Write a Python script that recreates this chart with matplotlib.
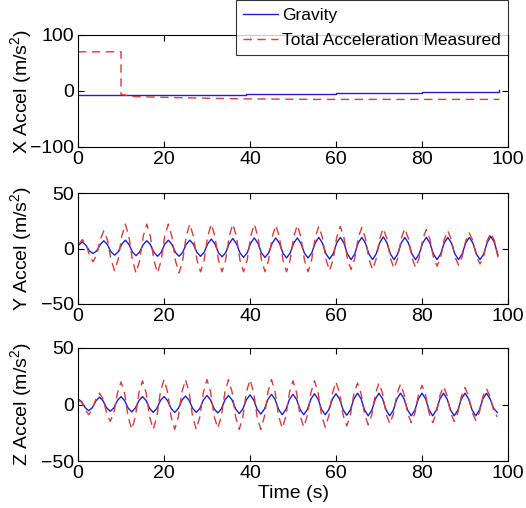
import numpy as np
import matplotlib
matplotlib.use("Agg")
import matplotlib.pyplot as plt

plt.rcParams['font.family'] = ['Liberation Sans', 'DejaVu Sans']
plt.rcParams['mathtext.fontset'] = 'custom'
plt.rcParams['mathtext.rm'] = 'Liberation Sans'

# ---------------- data ----------------
# X axis: piecewise-constant levels
x_grav_t = [0, 15, 39, 60, 80, 98]
x_grav_v = [-8, -7, -5.5, -3.5, -1.5, 1]
x_tot_t = [0, 10, 10, 13, 24, 38, 55, 98]
x_tot_v = [70, 70, -6, -10, -12, -14, -15, -15]

# Y axis samples (every 5/6 s starting at 1/6 s)
y_dt, y_t0 = 5.0 / 6.0, 1.0 / 6.0
y_grav = [
    3, 6, 3, -2.2, -4.5, -2.2,
    3.5, 7, 3.5, -3, -6, -3,
    3.8, 7.5, 3.8, -3.2, -6.5, -3.2,
    3.5, 7, 3.5, -3.5, -7, -3.5,
    3.8, 7.5, 3.8, -3.5, -7, -3.5,
    3.8, 7.5, 3.8, -3.5, -7, -3.5,
    4.2, 8.5, 4.2, -3.8, -7.5, -3.8,
    4.5, 9, 4.5, -4, -8, -4,
    4.8, 9.5, 4.8, -4, -8, -4,
    4.8, 9.5, 4.8, -4.2, -8.5, -4.2,
    4.8, 9.5, 4.8, -4.2, -8.5, -4.2,
    5, 10, 5, -4.8, -9.5, -4.8,
    5, 10, 5, -5, -10, -5,
    5, 10, 5, -5, -10, -5,
    5.2, 10.5, 5.2, -5, -10, -5,
    5, 10, 5, -5, -10, -5,
    5, 10, 5, -5, -10, -5,
    5, 10, 5, -5, -10, -5,
    5, 10, 5, -5, -10, -5,
    5.5, 11, 5.5, -6,
]
y_total = [
    4, 8, 4, -6, -12, -6,
    8, 16, 8, -10, -20, -10,
    11, 22, 11, -11, -22, -11,
    11, 22, 11, -11, -22, -11,
    11, 22, 11, -11, -22, -11,
    11, 22, 11, -10.5, -21, -10.5,
    11, 22, 11, -10.5, -21, -10.5,
    11, 22, 11, -10.5, -21, -10.5,
    11, 22, 11, -10.5, -21, -10.5,
    10.5, 21, 10.5, -10.5, -21, -10.5,
    10.5, 21, 10.5, -10.5, -21, -10.5,
    10, 20, 10, -10, -20, -10,
    10, 20, 10, -9.5, -19, -9.5,
    9.5, 19, 9.5, -9.5, -19, -9.5,
    9, 18, 9, -9, -18, -9,
    9, 18, 9, -8.5, -17, -8.5,
    8.5, 17, 8.5, -8, -16, -8,
    8, 16, 8, -7.5, -15, -7.5,
    7, 14, 7, -7, -14, -7,
    7, 14, 7, -8,
]

# Z axis samples (every 5/6 s starting at 0 s)
z_dt, z_t0 = 5.0 / 6.0, 0.0
z_grav = [
    5, 2.5, -2.8, -5.5, -2.8, 3.2,
    6.5, 3.2, -3, -6, -3, 3.5,
    7, 3.5, -3.2, -6.5, -3.2, 3.5,
    7, 3.5, -3.5, -7, -3.5, 3.5,
    7, 3.5, -3.5, -7, -3.5, 3.8,
    7.5, 3.8, -3.5, -7, -3.5, 4,
    8, 4, -3.8, -7.5, -3.8, 4,
    8, 4, -4, -8, -4, 4.2,
    8.5, 4.2, -4.2, -8.5, -4.2, 4.5,
    9, 4.5, -4.5, -9, -4.5, 4.5,
    9, 4.5, -4.5, -9, -4.5, 4.8,
    9.5, 4.8, -4.5, -9, -4.5, 4.8,
    9.5, 4.8, -4.8, -9.5, -4.8, 5,
    10, 5, -5, -10, -5, 5,
    10, 5, -5, -10, -5, 5,
    10, 5, -5, -10, -5, 5,
    10, 5, -5, -10, -5, 5,
    10, 5, -5, -10, -5, 5,
    10, 5, -5, -10, -5, 5,
    10, 5, -3.5, -7,
]
z_total = [
    4, 2, -4.5, -9, -4.5, 5,
    10, 5, -7.5, -15, -7.5, 10,
    20, 10, -11, -22, -11, 10.5,
    21, 10.5, -11, -22, -11, 11,
    22, 11, -11, -22, -11, 11,
    22, 11, -11, -22, -11, 11,
    22, 11, -10.5, -21, -10.5, 11,
    22, 11, -11, -22, -11, 11,
    22, 11, -11, -22, -11, 11,
    22, 11, -10.5, -21, -10.5, 10.5,
    21, 10.5, -10, -20, -10, 10.5,
    21, 10.5, -10, -20, -10, 10,
    20, 10, -9.5, -19, -9.5, 9.5,
    19, 9.5, -9, -18, -9, 9.5,
    19, 9.5, -8.5, -17, -8.5, 9,
    18, 9, -8, -16, -8, 8.5,
    17, 8.5, -8, -16, -8, 8,
    16, 8, -7.5, -15, -7.5, 7.5,
    15, 7.5, -7, -14, -7, 7,
    14, 7, -5.5, -11,
]

ylabels = ['X Accel (m/s$^2$)', 'Y Accel (m/s$^2$)', 'Z Accel (m/s$^2$)']
xticks = [0, 20, 40, 60, 80, 100]
series_names = ['Gravity', 'Total Acceleration Measured']

blue = '#1f1fcc'
red = '#d83c3c'

# ---------------- figure ----------------
W, H = 526, 508
fig = plt.figure(figsize=(W / 100, H / 100), dpi=100)

def rect(l, t, r, b):
    return [l / W, 1 - b / H, (r - l) / W, (b - t) / H]

axes = [fig.add_axes(rect(78, 35, 508, 147)),
        fig.add_axes(rect(78, 193, 508, 304)),
        fig.add_axes(rect(78, 348, 508, 461))]

ty = y_t0 + y_dt * np.arange(len(y_grav))
tz = z_t0 + z_dt * np.arange(len(z_grav))

LW = 1.0
DASH = (0, (6, 4))
ax = axes[0]
lg, = ax.plot(x_grav_t, x_grav_v, color=blue, lw=LW, drawstyle='steps-post')
lt, = ax.plot(x_tot_t, x_tot_v, color=red, lw=LW, ls=DASH)
ax.set_ylim(-100, 100)
ax.set_yticks([-100, 0, 100])

axes[1].plot(ty, y_grav, color=blue, lw=LW)
axes[1].plot(ty, y_total, color=red, lw=LW, ls=DASH)
axes[2].plot(tz, z_grav, color=blue, lw=LW)
axes[2].plot(tz, z_total, color=red, lw=LW, ls=DASH)
for a in axes[1:]:
    a.set_ylim(-50, 50)
    a.set_yticks([-50, 0, 50])

for a, lab in zip(axes, ylabels):
    a.set_xlim(0, 100)
    a.set_xticks(xticks)
    a.tick_params(direction='in', top=True, right=True, length=4, width=0.8,
                  labelsize=14, pad=3)
    for s in a.spines.values():
        s.set_linewidth(0.8)
    a.set_ylabel(lab, fontsize=14)
    a.yaxis.set_label_coords(-0.1, 0.5)

axes[2].set_xlabel('Time (s)', fontsize=14, labelpad=2)

leg = fig.legend([lg, lt], series_names, loc='upper right',
                 bbox_to_anchor=(508 / W, 1 - 0.5 / H), fontsize=12.5,
                 frameon=True, fancybox=False, edgecolor='black',
                 handlelength=2.0, borderpad=0.4, labelspacing=0.6,
                 handletextpad=0.25, borderaxespad=0)
leg.get_frame().set_linewidth(0.8)

fig.savefig('out.png', dpi=100)
